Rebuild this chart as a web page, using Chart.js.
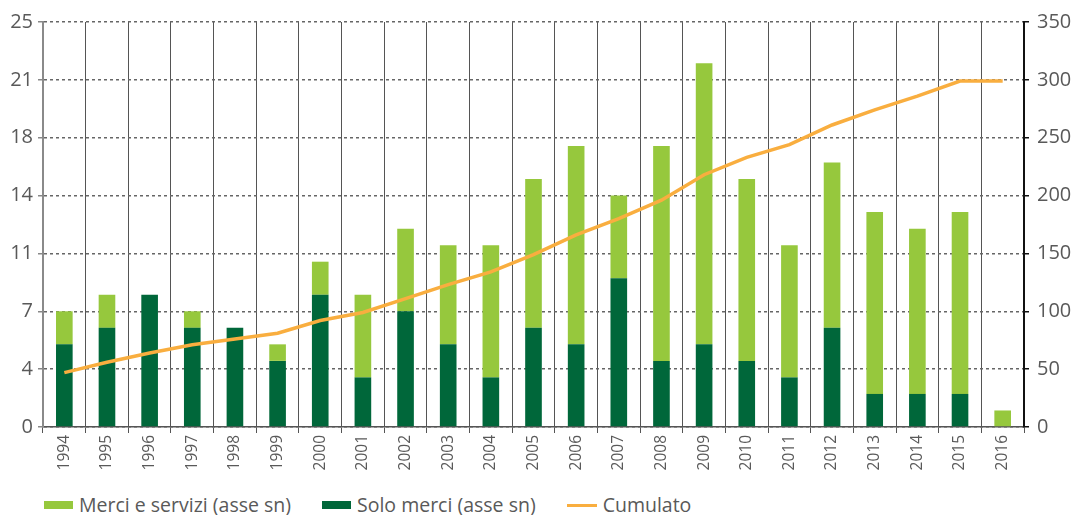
<!DOCTYPE html>
<html lang="it">
<head>
<meta charset="utf-8">
<title>Accordi commerciali</title>
<script src="https://cdn.jsdelivr.net/npm/chart.js@4/dist/chart.umd.min.js"></script>
<style>
  html, body { margin: 0; padding: 0; background: #fff; }
  #wrap { position: relative; width: 1086px; height: 515px; }
  #chart { position: absolute; left: 0; top: 0; }
  #legend {
    position: absolute; left: 44px; top: 494px;
    display: flex; align-items: center;
    font-family: "Open Sans", sans-serif; font-size: 19.5px; color: #595959;
    line-height: 22px;
  }
  .item { display: flex; align-items: center; margin-right: 31px; }
  .box { width: 29px; height: 8px; margin-right: 6px; }
  .line { width: 30px; height: 3px; margin-right: 6px; }
</style>
</head>
<body>
<div id="wrap">
  <canvas id="chart" width="1086" height="480"></canvas>
  <div id="legend"></div>
</div>
<script>
// anni sull'asse x
const YEARS = ["1994", "1995", "1996", "1997", "1998", "1999", "2000", "2001", "2002", "2003", "2004", "2005",
  "2006", "2007", "2008", "2009", "2010", "2011", "2012", "2013", "2014", "2015", "2016"];

// asse sinistro (barre impilate)
const SOLO_MERCI = [5, 6, 8, 6, 6, 4, 8, 3, 7, 5, 3, 6, 5, 9, 4, 5, 4, 3, 6, 2, 2, 2, 0];
const MERCI_SERVIZI = [2, 2, 0, 1, 0, 1, 2, 5, 5, 6, 8, 9, 12, 5, 13, 17, 11, 8, 10, 11, 10, 11, 1];

// asse destro (linea)
const CUMULATO = [47, 56, 64, 71, 76, 81, 92, 99, 111, 123, 134, 149, 166, 180, 196, 218, 233, 244, 261, 274, 286, 299, 299];

// scale: il sinistro va da 0 a 24.5 a passi di 3.5, etichette arrotondate
const LEFT_MAX = 24.5, LEFT_STEP = 3.5;
const RIGHT_MAX = 350, RIGHT_STEP = 50;

const LIGHT = "#96c83d";
const DARK = "#00673a";
const ORANGE = "#f9ae3f";
const TEXT = "#595959";

const tickFont = { family: "'Open Sans', sans-serif", size: 20 };

new Chart(document.getElementById("chart"), {
  type: "bar",
  data: {
    labels: YEARS,
    datasets: [
      {
        label: "Cumulato",
        type: "line",
        data: CUMULATO,
        yAxisID: "y1",
        borderColor: ORANGE,
        backgroundColor: ORANGE,
        borderWidth: 3.5,
        pointRadius: 0,
        tension: 0,
        order: 0,
      },
      {
        label: "Solo merci (asse sn)",
        data: SOLO_MERCI,
        backgroundColor: DARK,
        stack: "s",
        yAxisID: "y",
        order: 1,
      },
      {
        label: "Merci e servizi (asse sn)",
        data: MERCI_SERVIZI,
        backgroundColor: LIGHT,
        stack: "s",
        yAxisID: "y",
        order: 1,
      },
    ],
  },
  options: {
    responsive: false,
    animation: false,
    devicePixelRatio: 1,
    layout: { padding: { top: 22, left: 0, right: 0, bottom: 0 } },
    datasets: { bar: { barPercentage: 0.39, categoryPercentage: 1 } },
    plugins: { legend: { display: false }, tooltip: { enabled: false } },
    scales: {
      x: {
        stacked: true,
        offset: true,
        afterFit: (s) => { s.height = 53; },
        grid: { color: "#555", lineWidth: 1, offset: true, tickLength: 6, tickColor: "#555" },
        border: { color: "#555", width: 1.5 },
        ticks: {
          color: TEXT, font: { family: "'Open Sans', sans-serif", size: 15.5 },
          minRotation: 90, maxRotation: 90, padding: 2, autoSkip: false,
        },
      },
      y: {
        position: "left",
        stacked: true,
        min: 0, max: LEFT_MAX,
        afterFit: (s) => { s.width = 43; },
        afterBuildTicks: (s) => {
          s.ticks = [];
          for (let v = 0; v <= LEFT_MAX + 1e-9; v += LEFT_STEP) s.ticks.push({ value: v });
        },
        grid: { color: "#666", lineWidth: 1.5, tickLength: 5, tickColor: "#888", tickBorderDash: [] },
        border: { color: "#8a8a8a", width: 2, dash: [3, 3] },
        ticks: {
          color: TEXT, font: tickFont, padding: 5,
          callback: (v) => Math.round(v),
        },
      },
      y1: {
        position: "right",
        min: 0, max: RIGHT_MAX,
        afterFit: (s) => { s.width = 62; },
        grid: { drawOnChartArea: false, tickLength: 5, tickColor: "#111", lineWidth: 1.5 },
        border: { color: "#111", width: 2 },
        ticks: { color: TEXT, font: tickFont, padding: 8, stepSize: RIGHT_STEP },
      },
    },
  },
});

// legenda in basso a sinistra
const LEGEND = [
  { label: "Merci e servizi (asse sn)", cls: "box", color: LIGHT },
  { label: "Solo merci (asse sn)", cls: "box", color: DARK },
  { label: "Cumulato", cls: "line", color: ORANGE },
];
document.getElementById("legend").innerHTML = LEGEND.map(
  (l) => `<div class="item"><span class="${l.cls}" style="background:${l.color}"></span><span>${l.label}</span></div>`
).join("");
</script>
</body>
</html>
